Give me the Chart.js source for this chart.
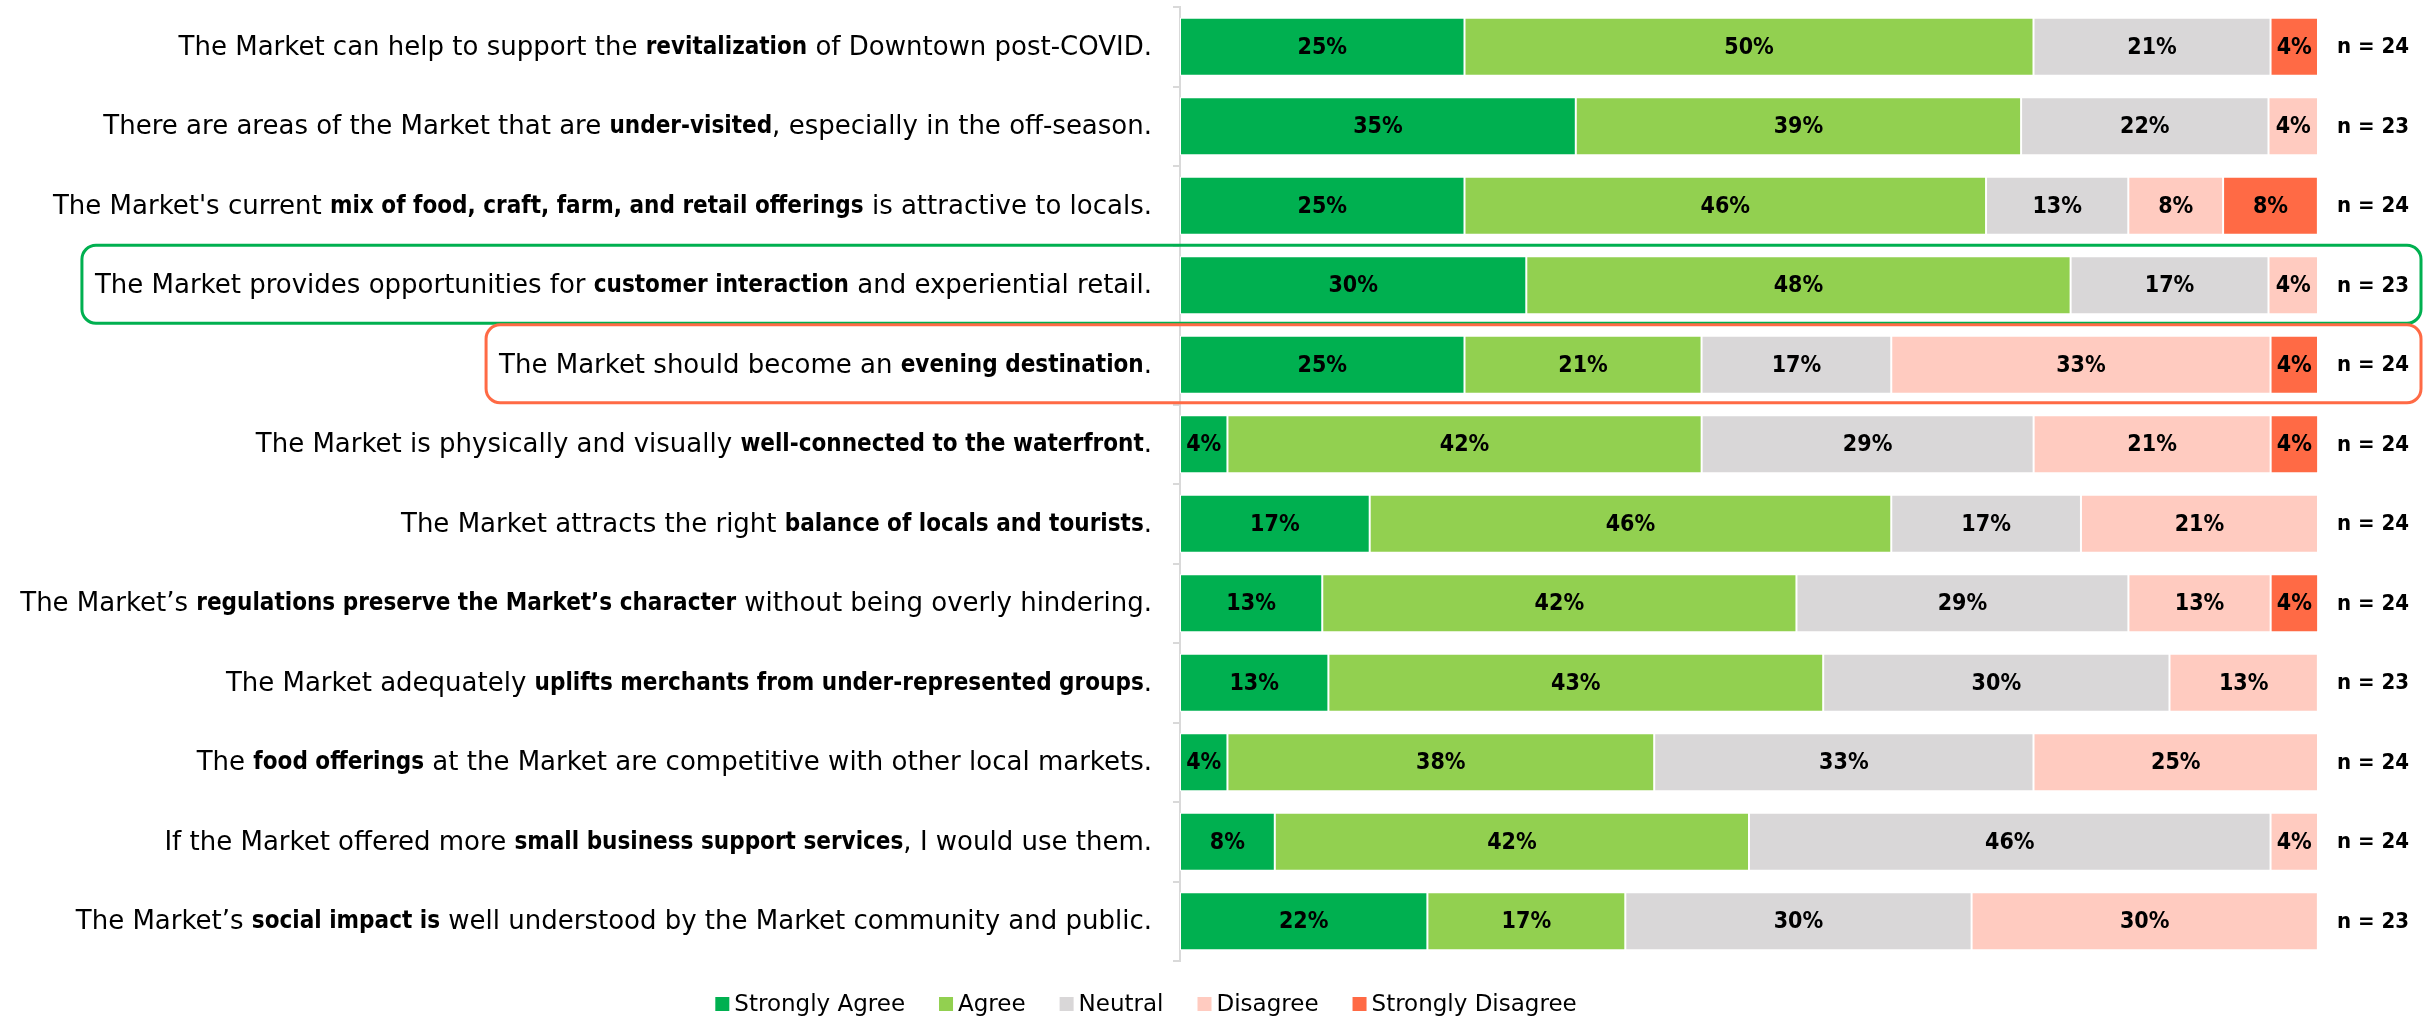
<!DOCTYPE html>
<html>
<head>
<meta charset="utf-8">
<script src="https://cdn.jsdelivr.net/npm/chart.js@4.4.1/dist/chart.umd.min.js"></script>
<style>
  html, body { margin: 0; padding: 0; background: #fff; }
</style>
</head>
<body>
<canvas id="chart" width="2435" height="1017"></canvas>
<script>
// statements, bold parts marked with **
const statements = [
  "The Market can help to support the **revitalization** of Downtown post-COVID.",
  "There are areas of the Market that are **under-visited**, especially in the off-season.",
  "The Market's current **mix of food, craft, farm, and retail offerings** is attractive to locals.",
  "The Market provides opportunities for **customer interaction** and experiential retail.",
  "The Market should become an **evening destination**.",
  "The Market is physically and visually **well-connected to the waterfront**.",
  "The Market attracts the right **balance of locals and tourists**.",
  "The Market\u2019s **regulations preserve the Market\u2019s character** without being overly hindering.",
  "The Market adequately **uplifts merchants from under-represented groups**.",
  "The **food offerings** at the Market are competitive with other local markets.",
  "If the Market offered more **small business support services**, I would use them.",
  "The Market\u2019s **social impact is** well understood by the Market community and public."
];
const respondents = [24, 23, 24, 23, 24, 24, 24, 24, 23, 24, 24, 23];

// share of respondents, %
const stronglyAgree    = [25, 34.78, 25, 30.43, 25, 4.17, 16.67, 12.5, 13.04, 4.17, 8.33, 21.74];
const agree            = [50, 39.13, 45.83, 47.83, 20.83, 41.67, 45.83, 41.67, 43.48, 37.5, 41.67, 17.39];
const neutral          = [20.83, 21.74, 12.5, 17.39, 16.67, 29.17, 16.67, 29.17, 30.43, 33.33, 45.83, 30.43];
const disagree         = [0, 4.35, 8.33, 4.35, 33.33, 20.83, 20.83, 12.5, 13.04, 25, 4.17, 30.43];
const stronglyDisagree = [4.17, 0, 8.33, 0, 4.17, 4.17, 0, 4.17, 0, 0, 0, 0];

const highlights = [
  { row: 3, color: '#00B050' },
  { row: 4, color: '#FF6A45' }
];

const FONT = '"DejaVu Sans", sans-serif';
const BOLD = '"DejaVu Sans Condensed", ' + FONT;
const labelFont = bold => bold ? 'bold 24px ' + BOLD : '26px ' + FONT;

const plainLabels = statements.map(s => s.replace(/\*\*/g, ''));

// statement labels with bold runs, highlight boxes, n counts
const sideText = {
  id: 'sideText',
  afterDraw(chart) {
    const ctx = chart.ctx;
    const y = chart.scales.y;
    const area = chart.chartArea;
    ctx.save();
    ctx.textBaseline = 'middle';
    ctx.fillStyle = '#000';
    statements.forEach((s, i) => {
      const parts = s.split('**');
      const yy = y.getPixelForValue(i);
      let total = 0;
      parts.forEach((p, k) => {
        ctx.font = labelFont(k % 2);
        total += ctx.measureText(p).width;
      });
      const start = area.left - 28 - total;
      let x = start;
      ctx.textAlign = 'left';
      parts.forEach((p, k) => {
        ctx.font = labelFont(k % 2);
        ctx.fillText(p, x, yy + 1);
        x += ctx.measureText(p).width;
      });

      ctx.font = 'bold 22px ' + BOLD;
      ctx.textAlign = 'center';
      ctx.fillText('n = ' + respondents[i], area.right + 55, yy + 1);

      const hl = highlights.find(h => h.row === i);
      if (hl) {
        ctx.strokeStyle = hl.color;
        ctx.lineWidth = 3;
        ctx.beginPath();
        ctx.roundRect(start - 13, yy - 40, area.right + 103 - (start - 13), 78, 14);
        ctx.stroke();
      }
    });
    ctx.restore();
  }
};

// percentage inside each segment
const barValues = {
  id: 'barValues',
  afterDatasetsDraw(chart) {
    const ctx = chart.ctx;
    ctx.save();
    ctx.font = 'bold 23px ' + BOLD;
    ctx.textAlign = 'center';
    ctx.textBaseline = 'middle';
    ctx.fillStyle = '#000';
    chart.data.datasets.forEach((ds, d) => {
      chart.getDatasetMeta(d).data.forEach((bar, i) => {
        const v = ds.data[i];
        if (!v) return;
        ctx.fillText(Math.round(v) + '%', (bar.x + bar.base) / 2, bar.y + 1);
      });
    });
    ctx.restore();
  }
};

// legend row under the plot
const bottomLegend = {
  id: 'bottomLegend',
  afterDraw(chart) {
    const ctx = chart.ctx;
    const items = chart.data.datasets;
    const box = 14, gap = 5, space = 34;
    ctx.save();
    ctx.font = '23px ' + FONT;
    ctx.textBaseline = 'middle';
    let width = 0;
    items.forEach((ds, k) => {
      width += box + gap + ctx.measureText(ds.label).width + (k < items.length - 1 ? space : 0);
    });
    let x = 1146 - width / 2;
    const yy = 1004;
    items.forEach(ds => {
      ctx.fillStyle = ds.backgroundColor;
      ctx.fillRect(x, yy - 7, box, box);
      x += box + gap;
      ctx.fillStyle = '#000';
      ctx.fillText(ds.label, x, yy + 1);
      x += ctx.measureText(ds.label).width + space;
    });
    ctx.restore();
  }
};

const series = (label, data, color) => ({
  label, data,
  backgroundColor: color,
  borderColor: '#ffffff',
  borderWidth: 1,
  borderSkipped: false,
  barPercentage: 0.73,
  categoryPercentage: 1
});

new Chart(document.getElementById('chart'), {
  type: 'bar',
  data: {
    labels: plainLabels,
    datasets: [
      series('Strongly Agree', stronglyAgree, '#00B050'),
      series('Agree', agree, '#92D050'),
      series('Neutral', neutral, '#D9D7D8'),
      series('Disagree', disagree, '#FFCBC0'),
      series('Strongly Disagree', stronglyDisagree, '#FF6A45')
    ]
  },
  options: {
    indexAxis: 'y',
    responsive: false,
    animation: false,
    layout: { padding: { left: 1173, right: 117, top: 7, bottom: 56 } },
    plugins: {
      legend: { display: false },
      tooltip: { enabled: false }
    },
    scales: {
      x: { stacked: true, display: false, min: 0, max: 100 },
      y: {
        stacked: true,
        ticks: { display: false },
        grid: { drawOnChartArea: false, drawTicks: true, tickLength: 7, color: '#D9D9D9', lineWidth: 2 },
        border: { display: true, color: '#D9D9D9', width: 2 }
      }
    }
  },
  plugins: [barValues, sideText, bottomLegend]
});
</script>
</body>
</html>
